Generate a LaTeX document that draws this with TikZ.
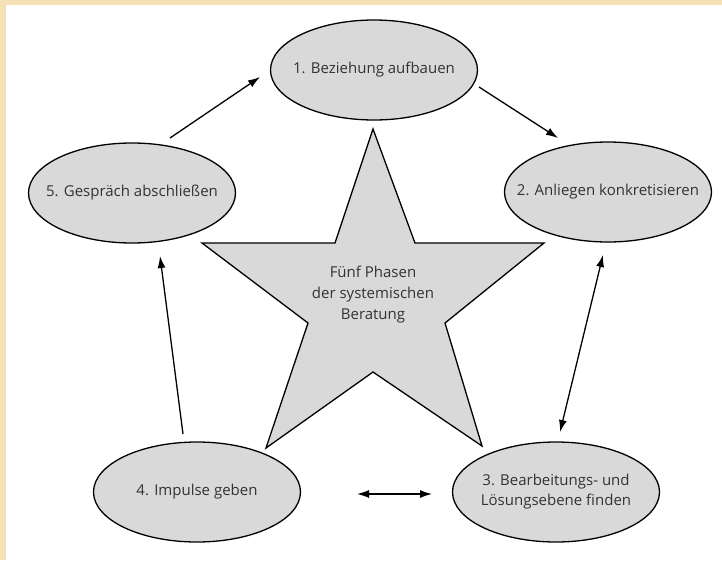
\documentclass[tikz,border=0pt]{standalone}
\usepackage{fontspec}
\setmainfont{Open Sans}
\usetikzlibrary{shapes.geometric,arrows.meta}
\definecolor{beige}{HTML}{F4E1B5}
\definecolor{phasefill}{HTML}{D9D9D9}
\definecolor{txt}{HTML}{333333}
\tikzset{
  phase/.style={ellipse, draw=black, line width=1.3pt, fill=phasefill,
    inner xsep=-25pt, inner ysep=0pt,
    minimum width=207pt, minimum height=100pt, align=center, text=txt,
    font=\fontsize{15}{20}\selectfont},
  conn/.style={line width=1.3pt, draw=black},
  tip/.style={-{Latex[length=12pt,width=8pt]}},
  dtip/.style={{Latex[length=12pt,width=8pt]}-{Latex[length=12pt,width=8pt]}},
}
\begin{document}
\begin{tikzpicture}[x=1pt,y=-1pt]
\useasboundingbox (0,0) rectangle (722,560);
\fill[white] (0,0) rectangle (722,560);
\fill[beige] (0,0) rectangle (6,560);
\fill[beige] (0,0) rectangle (722,5);

% star
\draw[line width=1.3pt, fill=phasefill, line join=miter]
  (373,129) -- (415,243) -- (544,243) -- (445,323) -- (482,446) -- (373,372)
  -- (266,448) -- (308,323) -- (202,243) -- (335,243) -- cycle;
\node[align=center, text=txt, font=\fontsize{15}{21}\selectfont] (center) at (373,295)
  {Fünf Phasen\\der systemischen\\Beratung};

% phases
\node[phase] (p1) at (374,70) {1. Beziehung aufbauen};
\node[phase] (p2) at (608,192) {2. Anliegen konkretisieren};
\node[phase] (p3) at (556,492) {3. Bearbeitungs- und\\Lösungsebene finden};
\node[phase] (p4) at (197,492) {4. Impulse geben};
\node[phase] (p5) at (132,193) {5. Gespräch abschließen};

% connector end points
\coordinate (a51) at (170,138);
\coordinate (b51) at (260,77);
\coordinate (a12) at (479,87);
\coordinate (b12) at (558,138);
\coordinate (a23) at (603,255);
\coordinate (b23) at (560,432);
\coordinate (a43) at (357,494);
\coordinate (b43) at (432,494);
\coordinate (a45) at (183,434);
\coordinate (b45) at (160,256);

\draw[conn,tip] (a51) -- (b51);
\draw[conn,tip] (a12) -- (b12);
\draw[conn,dtip] (a23) -- (b23);
\draw[conn,dtip] (a43) -- (b43);
\draw[conn,tip] (a45) -- (b45);
\end{tikzpicture}
\end{document}
